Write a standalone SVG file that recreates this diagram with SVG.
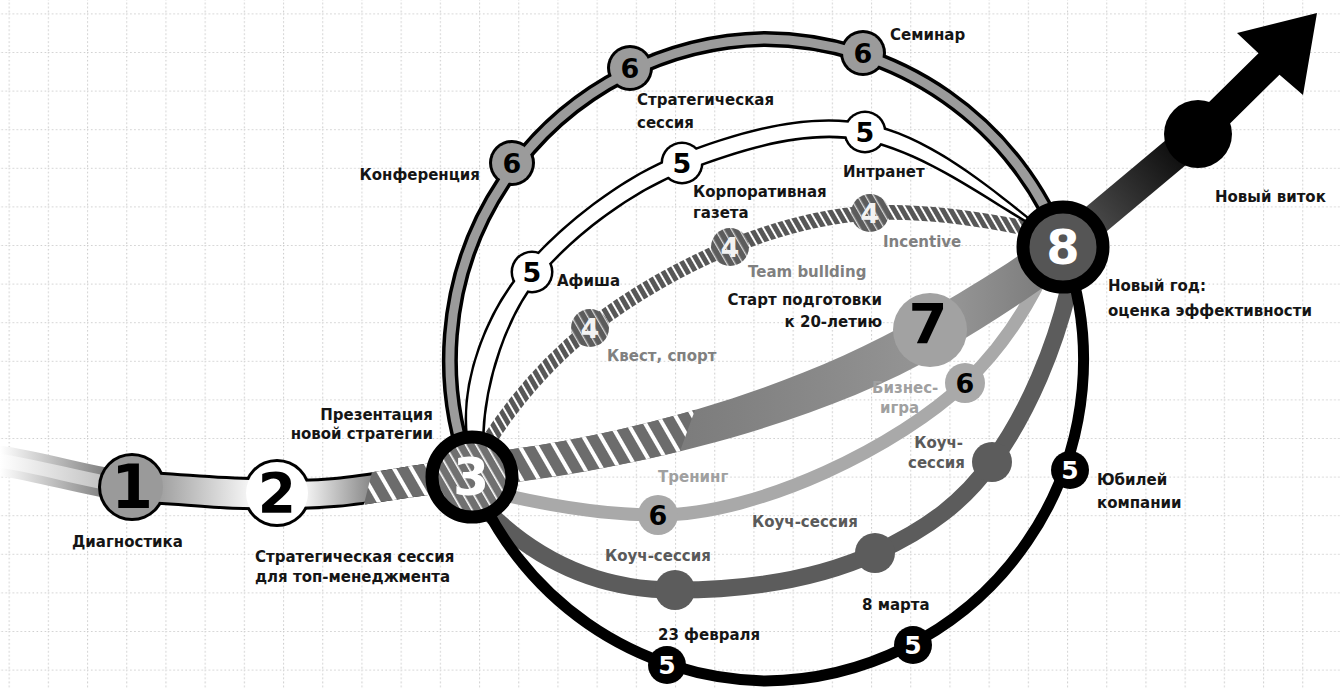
<svg xmlns="http://www.w3.org/2000/svg" width="1340" height="689" viewBox="0 0 1340 689">
<style>
.lb{font-family:"DejaVu Sans","Liberation Sans",sans-serif;font-weight:bold;font-size:15px;fill:#151515}
.gr{fill:#808080}
.lg{fill:#a0a0a0}
.dg{fill:#5a5a5a}
.num{font-family:"DejaVu Sans","Liberation Sans",sans-serif;font-weight:bold;text-anchor:middle}
</style>
<defs>
<pattern id="grid" patternUnits="userSpaceOnUse" x="8.6" y="13.4" width="39.2" height="38.6">
<path d="M0.5 0 V38.6 M0 0.5 H39.2" stroke="#cdcdcd" stroke-width="1.2" stroke-dasharray="1.5 2.5" fill="none"/>
</pattern>
<pattern id="stripes" patternUnits="userSpaceOnUse" width="15" height="15" patternTransform="rotate(-30)">
<rect width="15" height="15" fill="#6c6c6c"/><rect width="4" height="15" fill="#fff"/>
</pattern>
<pattern id="hatch4" patternUnits="userSpaceOnUse" width="7" height="7" patternTransform="rotate(-30)">
<rect width="7" height="7" fill="#575757"/><rect width="2" height="7" fill="#fff"/>
</pattern>
<pattern id="hatchNode" patternUnits="userSpaceOnUse" width="7" height="7" patternTransform="rotate(-30)">
<rect width="7" height="7" fill="#5c5c5c"/><rect width="1.3" height="7" fill="#d8d8d8"/>
</pattern>
<pattern id="stripeNode" patternUnits="userSpaceOnUse" width="9" height="9" patternTransform="rotate(-30)">
<rect width="9" height="9" fill="#707070"/><rect width="1.6" height="9" fill="#fff"/>
</pattern>
<linearGradient id="gLeft" gradientUnits="userSpaceOnUse" x1="0" y1="0" x2="120" y2="0">
<stop offset="0" stop-color="#fff"/><stop offset="1" stop-color="#6e6e6e"/>
</linearGradient>
<linearGradient id="gLeftIn" gradientUnits="userSpaceOnUse" x1="0" y1="0" x2="120" y2="0">
<stop offset="0" stop-color="#fff"/><stop offset="1" stop-color="#b8b8b8"/>
</linearGradient>
<linearGradient id="g12" gradientUnits="userSpaceOnUse" x1="160" y1="0" x2="250" y2="0">
<stop offset="0" stop-color="#a0a0a0"/><stop offset="1" stop-color="#f6f6f6"/>
</linearGradient>
<linearGradient id="g23" gradientUnits="userSpaceOnUse" x1="305" y1="0" x2="380" y2="0">
<stop offset="0" stop-color="#f4f4f4"/><stop offset="1" stop-color="#7a7a7a"/>
</linearGradient>
<linearGradient id="gMain" gradientUnits="userSpaceOnUse" x1="478" y1="0" x2="1063" y2="0">
<stop offset="0" stop-color="#686868"/><stop offset="0.6" stop-color="#8a8a8a"/><stop offset="0.8" stop-color="#979797"/><stop offset="1" stop-color="#777"/>
</linearGradient>
<linearGradient id="gArrow" gradientUnits="userSpaceOnUse" x1="1063" y1="247" x2="1198" y2="134">
<stop offset="0" stop-color="#5e5e5e"/><stop offset="1" stop-color="#000"/>
</linearGradient>
<clipPath id="clipMain"><polygon points="440,300 735,300 655,520 440,520"/></clipPath>
<clipPath id="clip23"><polygon points="385,420 480,420 480,540 355,540"/></clipPath>
</defs>

<rect width="1340" height="689" fill="#fff"/>
<rect width="1340" height="689" fill="url(#grid)"/>

<g id="connectors" fill="none">
<path d="M-5,460 C40,466 90,482 132,487" stroke="url(#gLeft)" stroke-width="30"/>
<path d="M-5,460 C40,466 90,482 132,487" stroke="url(#gLeftIn)" stroke-width="14"/>
<path d="M132,487 C180,488 230,496 277,493" stroke="#000" stroke-width="33"/>
<path d="M277,493 C340,499 400,480 472,474" stroke="#000" stroke-width="31"/>
<circle cx="132" cy="487" r="34" fill="#000"/>
<circle cx="277" cy="493" r="34" fill="#000"/>
<path d="M132,487 C180,488 230,496 277,493" stroke="url(#g12)" stroke-width="27"/>
<path d="M277,493 C340,499 400,480 472,474" stroke="url(#g23)" stroke-width="25"/>
<path d="M277,493 C340,499 400,480 472,474" stroke="url(#stripes)" stroke-width="31" clip-path="url(#clip23)"/>

<path d="M488,512 C545,568 608,590 675,590 C750,590 820,578 875,553 C930,528 965,500 992,462 C1030,410 1055,345 1068,292" stroke="#5c5c5c" stroke-width="17"/>
<path d="M500,494 C560,508 610,515 658,515 C760,515 900,445 965,383 C1000,350 1025,310 1040,280" stroke="#a9a9a9" stroke-width="13"/>
<path d="M488,442 C515,400 550,360 590,328 C630,296 683,266 730,247 C777,228 821,216 870,213 C919,210 975,218 1025,228" stroke="url(#hatch4)" stroke-width="15"/>

<path d="M468,436 C462,380 488,312 525,269.5 C562,226 623,178 679,156.5 C737,134 806,113 868,125.5 C930,138 994,192 1036,226 C990,200 924,150 862,138.5 C805,128 742,148 685,169.5 C630,191 575,233 539,274.5 C505,316 484,380 482,436 Z" stroke="#000" stroke-width="5"/>
<circle cx="532" cy="272" r="21.5" fill="#000"/>
<circle cx="682" cy="163" r="21.5" fill="#000"/>
<circle cx="865" cy="132" r="21.5" fill="#000"/>
<path d="M468,436 C462,380 488,312 525,269.5 C562,226 623,178 679,156.5 C737,134 806,113 868,125.5 C930,138 994,192 1036,226 C990,200 924,150 862,138.5 C805,128 742,148 685,169.5 C630,191 575,233 539,274.5 C505,316 484,380 482,436 Z" fill="#fff"/>

<path d="M476.3,453.6 C618,438.6 789.5,391.8 919.5,316.8 C969.5,286.8 1017.1,259.8 1050.1,231.8 L1075.9,262.2 C1042.9,290.2 990.5,323.2 940.5,353.2 C810.5,428.2 622,471.4 479.7,486.4 Z" fill="url(#gMain)"/>
<path d="M476.3,453.6 C618,438.6 789.5,391.8 919.5,316.8 L940.5,353.2 C810.5,428.2 622,471.4 479.7,486.4 Z" fill="url(#stripes)" clip-path="url(#clipMain)"/>

<path d="M472,477 A321,321 0 0 1 765,39 A321,321 0 0 1 1063,247" stroke="#000" stroke-width="16"/>
<circle cx="512" cy="163" r="23" fill="#000"/>
<circle cx="630" cy="68" r="23" fill="#000"/>
<circle cx="863" cy="53" r="23" fill="#000"/>
<path d="M472,477 A321,321 0 0 1 765,39 A321,321 0 0 1 1063,247" stroke="#9b9b9b" stroke-width="9"/>
<path d="M472,477 A321,321 0 0 0 765,681 A321,321 0 0 0 1063,247" stroke="#000" stroke-width="11"/>

<path d="M1063,247 L1198,134" stroke="url(#gArrow)" stroke-width="32"/>
<polygon points="1187.5,123.3 1258.5,53.3 1237,33 1317,13 1303,95 1279.5,74.7 1208.5,144.7" fill="#000"/>
</g>

<g id="node-1">
<circle cx="132" cy="487" r="31" fill="#9a9a9a"/>
<text class="num" x="132" y="508" font-size="60" fill="#000">1</text>
<text class="lb" x="72" y="547">Диагностика</text>
</g>
<g id="node-2">
<circle cx="277" cy="493" r="31" fill="#fff"/>
<text class="num" x="277" y="512" font-size="55" fill="#000">2</text>
<text class="lb" x="255" y="562">Стратегическая сессия</text>
<text class="lb" x="255" y="582">для топ-менеджмента</text>
</g>

<g id="node-6-konferentsiya">
<circle cx="512" cy="163" r="20" fill="#9b9b9b"/>
<text class="num" x="512" y="173" font-size="27" fill="#000">6</text>
<text class="lb" x="480" y="180" text-anchor="end">Конференция</text>
</g>
<g id="node-6-strategicheskaya-sessiya">
<circle cx="630" cy="68" r="20" fill="#9b9b9b"/>
<text class="num" x="630" y="78" font-size="27" fill="#000">6</text>
<text class="lb" x="637" y="105">Стратегическая</text>
<text class="lb" x="637" y="128">сессия</text>
</g>
<g id="node-6-seminar">
<circle cx="863" cy="53" r="20" fill="#9b9b9b"/>
<text class="num" x="863" y="63" font-size="27" fill="#000">6</text>
<text class="lb" x="890" y="40">Семинар</text>
</g>

<g id="node-5-afisha">
<circle cx="532" cy="272" r="19" fill="#fff"/>
<text class="num" x="532" y="282" font-size="27" fill="#000">5</text>
<text class="lb" x="557" y="286">Афиша</text>
</g>
<g id="node-5-gazeta">
<circle cx="682" cy="163" r="19" fill="#fff"/>
<text class="num" x="682" y="173" font-size="27" fill="#000">5</text>
<text class="lb" x="693" y="197">Корпоративная</text>
<text class="lb" x="693" y="218">газета</text>
</g>
<g id="node-5-intranet">
<circle cx="865" cy="132" r="19" fill="#fff"/>
<text class="num" x="865" y="142" font-size="27" fill="#000">5</text>
<text class="lb" x="843" y="177">Интранет</text>
</g>

<g id="node-4-kvest">
<circle cx="590" cy="328" r="19" fill="url(#hatchNode)"/>
<text class="num" x="590" y="338" font-size="27" fill="#f2f2f2">4</text>
<text class="lb gr" x="607" y="361">Квест, спорт</text>
</g>
<g id="node-4-team">
<circle cx="730" cy="247" r="19" fill="url(#hatchNode)"/>
<text class="num" x="730" y="257" font-size="27" fill="#f2f2f2">4</text>
<text class="lb gr" x="748" y="277">Team bullding</text>
</g>
<g id="node-4-incentive">
<circle cx="870" cy="213" r="19" fill="url(#hatchNode)"/>
<text class="num" x="870" y="223" font-size="27" fill="#f2f2f2">4</text>
<text class="lb gr" x="883" y="247">Incentive</text>
</g>

<g id="node-6-trening">
<circle cx="658" cy="515" r="20" fill="#a9a9a9"/>
<text class="num" x="658" y="525" font-size="27" fill="#000">6</text>
<text class="lb lg" x="658" y="482">Тренинг</text>
</g>
<g id="node-6-biznes-igra">
<circle cx="965" cy="383" r="20" fill="#a9a9a9"/>
<text class="num" x="965" y="393" font-size="27" fill="#000">6</text>
<text class="lb lg" x="872" y="393">Бизнес-</text>
<text class="lb lg" x="880" y="413">игра</text>
</g>

<g id="node-coach-1">
<circle cx="675" cy="590" r="20" fill="#5c5c5c"/>
<text class="lb dg" x="605" y="561">Коуч-сессия</text>
</g>
<g id="node-coach-2">
<circle cx="875" cy="553" r="20" fill="#5c5c5c"/>
<text class="lb dg" x="752" y="527">Коуч-сессия</text>
</g>
<g id="node-coach-3">
<circle cx="992" cy="462" r="20" fill="#5c5c5c"/>
<text class="lb dg" x="963" y="448" text-anchor="end">Коуч-</text>
<text class="lb dg" x="965" y="468" text-anchor="end">сессия</text>
</g>

<g id="node-5-23-fevralya">
<circle cx="667" cy="665" r="19" fill="#000"/>
<text class="num" x="667" y="674" font-size="25" fill="#fff">5</text>
<text class="lb" x="658" y="640">23 февраля</text>
</g>
<g id="node-5-8-marta">
<circle cx="913" cy="645" r="19" fill="#000"/>
<text class="num" x="913" y="654" font-size="25" fill="#fff">5</text>
<text class="lb" x="862" y="610">8 марта</text>
</g>
<g id="node-5-yubiley">
<circle cx="1070" cy="470" r="19" fill="#000"/>
<text class="num" x="1070" y="479" font-size="25" fill="#fff">5</text>
<text class="lb" x="1097" y="485">Юбилей</text>
<text class="lb" x="1097" y="508">компании</text>
</g>

<g id="node-7">
<circle cx="930" cy="330" r="37" fill="#a2a2a2"/>
<text class="num" x="928" y="343" font-size="56" fill="#000">7</text>
<text class="lb" x="882" y="305" text-anchor="end">Старт подготовки</text>
<text class="lb" x="882" y="327" text-anchor="end">к 20-летию</text>
</g>

<g id="node-3">
<circle cx="472" cy="477" r="40" fill="url(#stripeNode)" stroke="#000" stroke-width="13"/>
<text class="num" x="471" y="495" font-size="52" fill="#fff">3</text>
<text class="lb" x="433" y="420" text-anchor="end">Презентация</text>
<text class="lb" x="433" y="439" text-anchor="end">новой стратегии</text>
</g>

<g id="node-8">
<circle cx="1063" cy="247" r="40" fill="#555" stroke="#000" stroke-width="13"/>
<text class="num" x="1063" y="264" font-size="48" fill="#fff">8</text>
<text class="lb" x="1108" y="291" font-size="22">Новый год:</text>
<text class="lb" x="1108" y="316" font-size="16">оценка эффективности</text>
</g>

<g id="node-novyi-vitok">
<circle cx="1198" cy="134" r="34" fill="#000"/>
<text class="lb" x="1215" y="202" font-size="16">Новый виток</text>
</g>
</svg>
